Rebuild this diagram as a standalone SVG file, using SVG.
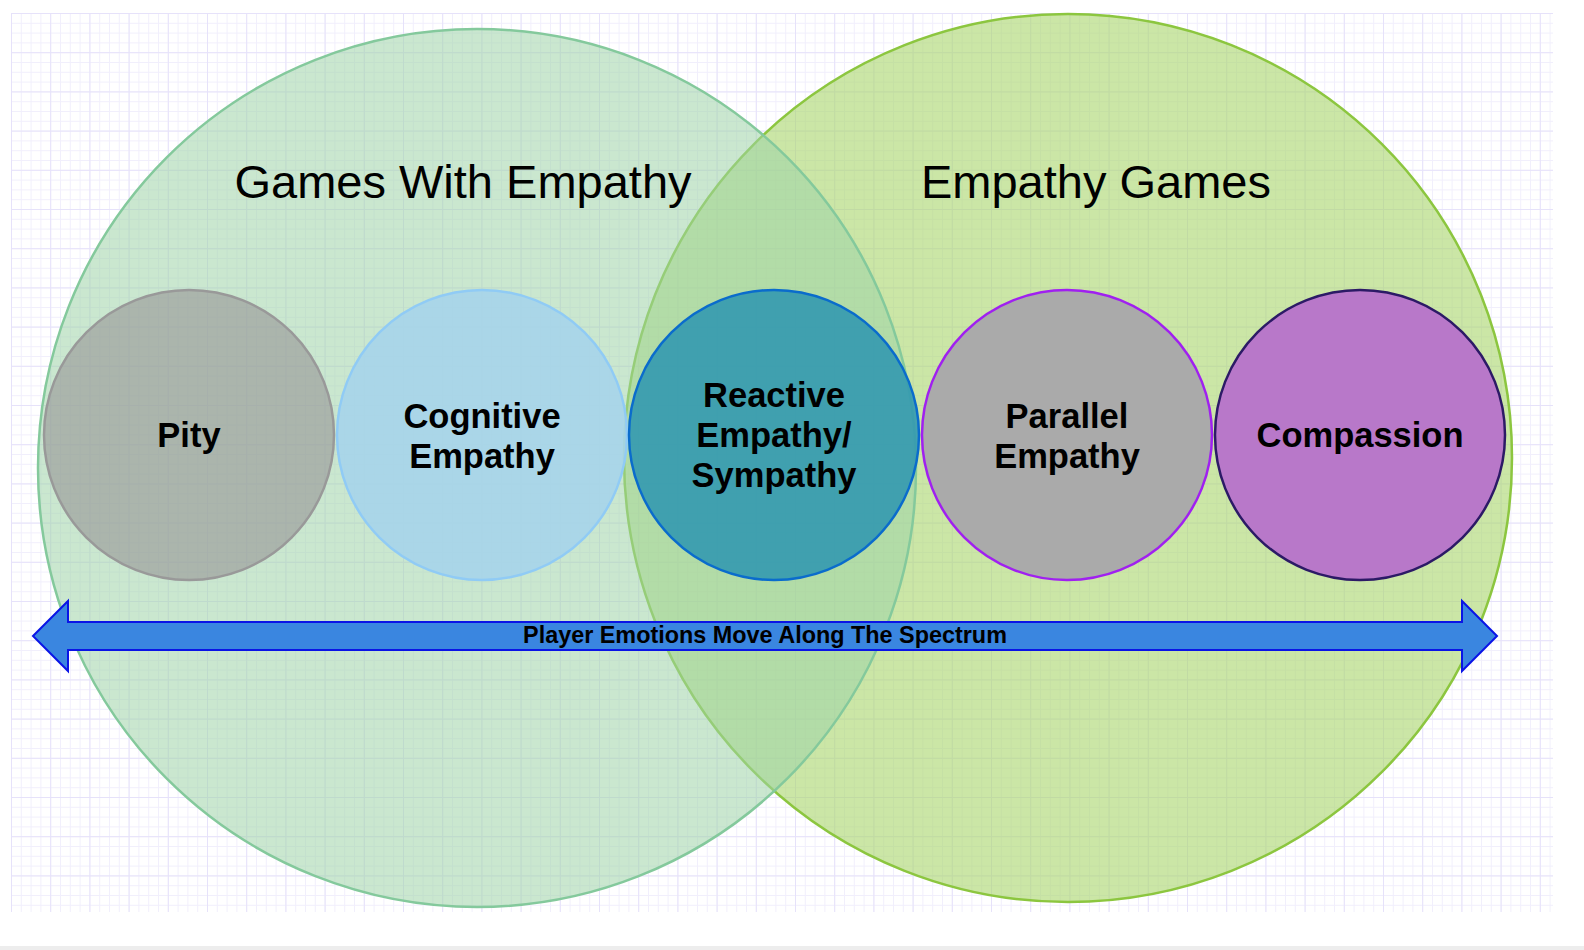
<svg xmlns="http://www.w3.org/2000/svg" width="1584" height="950" viewBox="0 0 1584 950">
  <style>
    .title { font-family: "Liberation Sans", Arial, sans-serif; font-size: 47px; fill: #000; text-anchor: middle; }
    .label { font-family: "Liberation Sans", Arial, sans-serif; font-size: 34.5px; font-weight: bold; fill: #000; text-anchor: middle; }
    .arrowlabel { font-family: "Liberation Sans", Arial, sans-serif; font-size: 23.4px; font-weight: bold; fill: #000; text-anchor: middle; }
    .node { stroke-width: 2.5; }
  </style>
  <defs>
    <pattern id="minor" x="11" y="13" width="9.8" height="9.8" patternUnits="userSpaceOnUse">
      <path d="M 0 0.5 H 9.8 M 0.5 0 V 9.8" fill="none" stroke="#f1effc" stroke-width="1"/>
    </pattern>
    <pattern id="major" x="11" y="13" width="39.2" height="39.2" patternUnits="userSpaceOnUse">
      <path d="M 0 0.5 H 39.2 M 0.5 0 V 39.2" fill="none" stroke="#e6e2fa" stroke-width="1"/>
    </pattern>
  </defs>
  <rect x="0" y="0" width="1584" height="950" fill="#ffffff"/>
  <rect x="11" y="13" width="1542" height="899" fill="url(#minor)"/>
  <rect x="11" y="13" width="1542" height="899" fill="url(#major)"/>
  <rect x="0" y="946" width="1584" height="4" fill="#ededed"/>

  <g id="empathy-games">
    <circle cx="1068" cy="458" r="444" fill="#a8d66a" fill-opacity="0.6" stroke="#8cc63f" stroke-width="2.5"/>
    <text class="title" x="1096" y="198">Empathy Games</text>
  </g>
  <g id="games-with-empathy">
    <circle cx="477" cy="468" r="439" fill="#9fd4a8" fill-opacity="0.55" stroke="#84c99c" stroke-width="2.5"/>
    <text class="title" x="463" y="198">Games With Empathy</text>
  </g>

  <g id="pity">
    <circle class="node" cx="189" cy="435" r="145" fill="#999999" fill-opacity="0.65" stroke="#999999"/>
    <text class="label" x="189" y="447">Pity</text>
  </g>
  <g id="cognitive-empathy">
    <circle class="node" cx="482" cy="435" r="145" fill="#a6d4ea" fill-opacity="0.9" stroke="#90cbf5"/>
    <text class="label" x="482" y="428">Cognitive</text>
    <text class="label" x="482" y="468">Empathy</text>
  </g>
  <g id="reactive-empathy">
    <circle class="node" cx="774" cy="435" r="145" fill="#3399b0" fill-opacity="0.9" stroke="#0a6ccc"/>
    <text class="label" x="774" y="407">Reactive</text>
    <text class="label" x="774" y="447">Empathy/</text>
    <text class="label" x="774" y="487">Sympathy</text>
  </g>
  <g id="parallel-empathy">
    <circle class="node" cx="1067" cy="435" r="145" fill="#aaaaaa" stroke="#a020f0"/>
    <text class="label" x="1067" y="428">Parallel</text>
    <text class="label" x="1067" y="468">Empathy</text>
  </g>
  <g id="compassion">
    <circle class="node" cx="1360" cy="435" r="145" fill="#b878c9" stroke="#2c1a66"/>
    <text class="label" x="1360" y="447">Compassion</text>
  </g>

  <g id="connectors">
    <path d="M 33 636 L 68 601 L 68 622 L 1462 622 L 1462 601 L 1497 636 L 1462 671 L 1462 650 L 68 650 L 68 671 Z" fill="#3a86e0" stroke="#0a14e6" stroke-width="2" stroke-linejoin="miter"/>
    <text class="arrowlabel" x="765" y="643">Player Emotions Move Along The Spectrum</text>
  </g>
</svg>
